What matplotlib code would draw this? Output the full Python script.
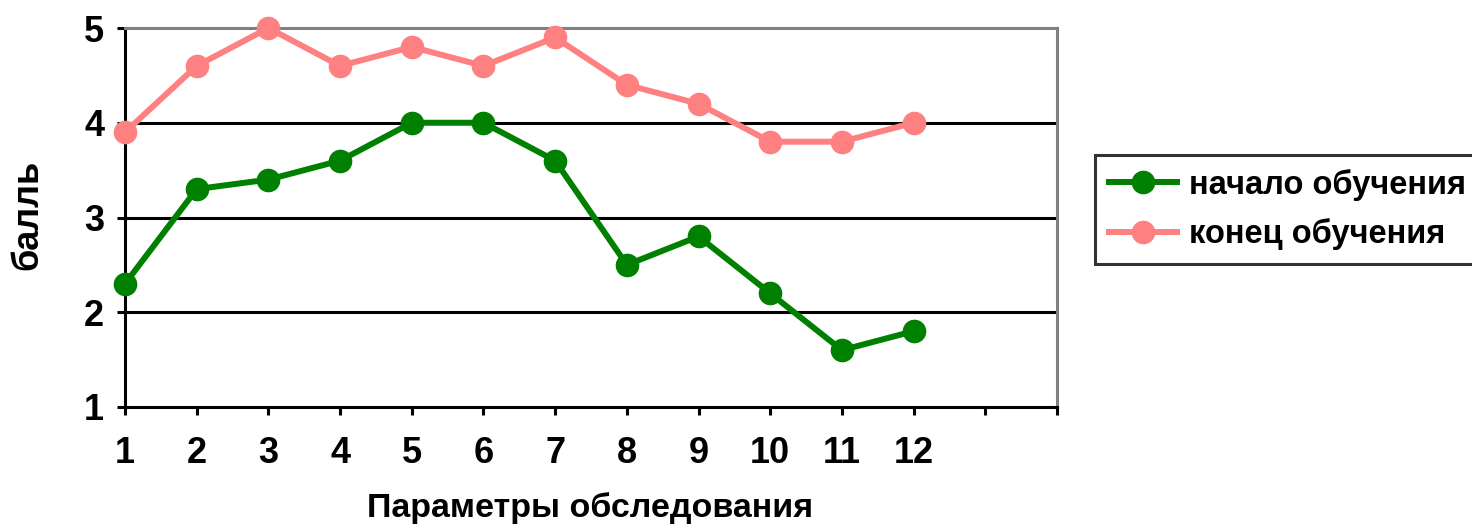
import matplotlib
matplotlib.use("Agg")
import matplotlib.pyplot as plt

# data
params = [1, 2, 3, 4, 5, 6, 7, 8, 9, 10, 11, 12]
start_scores = [2.3, 3.3, 3.4, 3.6, 4.0, 4.0, 3.6, 2.5, 2.8, 2.2, 1.6, 1.8]
end_scores = [3.9, 4.6, 5.0, 4.6, 4.8, 4.6, 4.9, 4.4, 4.2, 3.8, 3.8, 4.0]
series_names = ["начало обучения", "конец обучения"]
x_ticks = list(range(1, 15))
x_tick_labels = [str(p) for p in params] + ["", ""]
y_ticks = [1, 2, 3, 4, 5]

plt.rcParams["font.family"] = ["Liberation Sans", "DejaVu Sans"]
plt.rcParams["font.weight"] = "bold"

fig = plt.figure(figsize=(14.72, 5.28), dpi=100)
ax = fig.add_axes([125 / 1472, 1 - 407 / 528, 932 / 1472, 379 / 528])

# horizontal grid lines
for yv in y_ticks[1:-1]:
    ax.axhline(yv, color="black", lw=2.2, zorder=1)

ax.plot(params, start_scores, color="#008000", lw=4.3, marker="o",
        markersize=16, label=series_names[0], zorder=3, clip_on=False)
ax.plot(params, end_scores, color="#FF8080", lw=4.3, marker="o",
        markersize=16, label=series_names[1], zorder=3, clip_on=False)

ax.set_xlim(1, 14)
ax.set_ylim(1, 5)
ax.set_xticks(x_ticks)
ax.set_xticklabels(x_tick_labels)
ax.set_yticks(y_ticks)

for side in ["left", "bottom"]:
    ax.spines[side].set_color("black")
    ax.spines[side].set_linewidth(2.2)
for side in ["top", "right"]:
    ax.spines[side].set_color("#808080")
    ax.spines[side].set_linewidth(2.2)

ax.tick_params(axis="both", direction="out", length=6, width=2.2,
               labelsize=26, color="black")
ax.tick_params(axis="x", pad=15)
ax.tick_params(axis="y", pad=9)

ax.set_xlabel("Параметры обследования", fontsize=24.5, fontweight="bold")
ax.xaxis.set_label_coords(0.499, -0.225)
ax.set_ylabel("балль", fontsize=26, fontweight="bold")
ax.yaxis.set_label_coords(-0.085, 0.507)

# legend box runs past the right edge of the image, as in the reference
leg = fig.legend(loc="upper left", mode="expand",
                 bbox_to_anchor=(1095 / 1472, 1 - 262 / 528,
                                 (1540 - 1095) / 1472, 107 / 528),
                 fontsize=23.5, frameon=True, fancybox=False, borderpad=0.42,
                 handlelength=2.1, handletextpad=0.35, labelspacing=0.55,
                 borderaxespad=0)
leg.get_frame().set_edgecolor("black")
leg.get_frame().set_linewidth(2.2)

fig.savefig("out.png", dpi=100)
